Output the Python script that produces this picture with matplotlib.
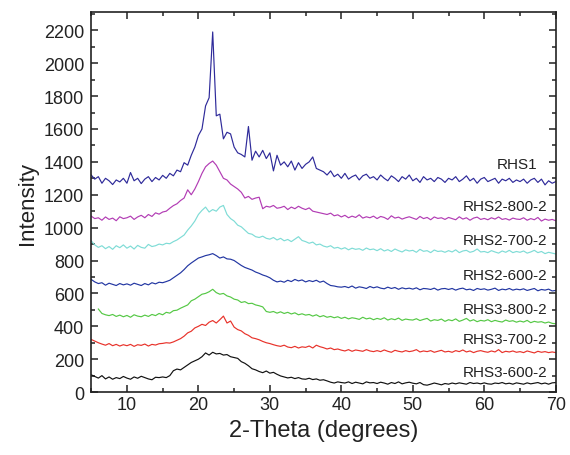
import numpy as np
import matplotlib
matplotlib.use("Agg")
import matplotlib.pyplot as plt
from matplotlib.ticker import MultipleLocator

plt.rcParams['font.family'] = ['Liberation Sans', 'DejaVu Sans']

nan = float('nan')

# 2-theta sampling (degrees), 0.5 deg step from 5 to 70
two_theta = np.arange(5, 70.01, 0.5)

rhs1 = [1320, 1295, 1310, 1270, 1300, 1285, 1262, 1290, 1278, 1300,
        1270, 1335, 1285, 1300, 1268, 1295, 1310, 1280, 1305, 1290,
        1318, 1300, 1330, 1315, 1350, 1340, 1395, 1380, 1440, 1490,
        1560, 1600, 1740, 1790, 2190, 1680, 1690, 1540, 1580, 1570,
        1490, 1455, 1445, 1430, 1615, 1410, 1465, 1430, 1470, 1420,
        1455, 1345, 1440, 1380, 1400, 1370, 1405, 1350, 1395, 1360,
        1385, 1400, 1430, 1360, 1350, 1340, 1320, 1345, 1310, 1325,
        1300, 1330, 1295, 1310, 1320, 1290, 1315, 1325, 1300, 1310,
        1290, 1320, 1300, 1285, 1315, 1300, 1280, 1310, 1295, 1320,
        1285, 1300, 1275, 1310, 1290, 1300, 1280, 1305, 1295, 1275,
        1300, 1290, 1310, 1280, 1295, 1315, 1285, 1300, 1270, 1295,
        1305, 1280, 1290, 1300, 1270, 1295, 1285, 1300, 1275, 1290,
        1280, 1295, 1270, 1290, 1300, 1275, 1295, 1260, 1285, 1270,
        1280]

rhs2_800 = [1070, 1055, 1060, 1045, 1065, 1050, 1058, 1042, 1066, 1055,
            1060, 1070, 1050, 1065, 1075, 1060, 1080, 1068, 1090, 1082,
            1095, 1100, 1118, 1134, 1145, 1165, 1180, 1230, 1200, 1235,
            1280, 1330, 1370, 1390, 1405, 1380, 1340, 1300, 1290, 1265,
            1250, 1235, 1215, 1180, 1190, 1172, 1180, 1185, 1115, 1130,
            1125, 1135, 1118, 1122, 1130, 1110, 1125, 1115, 1130, 1118,
            1110, 1120, 1100, 1095, 1090, 1085, 1080, 1088, 1072, 1078,
            1065, 1075, 1060, 1070, 1062, 1078, 1058, 1066, 1060, 1070,
            1055, 1068, 1062, 1050, 1072, 1058, 1064, 1052, 1060, 1066,
            1058, 1050, 1068, 1055, 1062, 1048, 1065, 1056, 1060, 1050,
            1062, 1055, 1048, 1066, 1052, 1060, 1045, 1058, 1064, 1050,
            1056, 1048, 1060, 1052, 1065, 1050, 1055, 1046, 1058, 1052,
            1050, 1060, 1045, 1055, 1048, 1062, 1040, 1052, 1045, 1050,
            1042]

rhs2_700 = [920, 895, 880, 890, 872, 885, 868, 890, 878, 895,
            875, 888, 870, 892, 880, 875, 898, 885, 890, 900,
            895, 905, 902, 915, 925, 940, 955, 985, 1010, 1040,
            1080, 1105, 1125, 1095, 1110, 1100, 1125, 1135, 1080, 1055,
            1040, 1015, 1005, 985, 965, 960, 945, 940, 948, 935,
            930, 940, 925, 935, 920, 928, 915, 930, 945, 922,
            915, 905, 912, 895, 900, 888, 882, 890, 875, 880,
            870, 878, 865, 875, 868, 872, 862, 876, 866, 870,
            860, 872, 858, 866, 855, 870, 860, 852, 865, 858,
            862, 850, 868, 856, 860, 848, 864, 855, 858, 850,
            860, 852, 865, 848, 858, 862, 850, 856, 870, 852,
            855, 848, 860, 852, 845, 858, 850, 862, 848, 855,
            850, 858, 845, 852, 862, 848, 855, 842, 850, 845,
            840]

rhs2_600 = [685, 670, 660, 665, 650, 662, 655, 648, 660, 652,
            658, 650, 662, 655, 648, 660, 652, 665, 658, 668,
            665, 672, 680, 695, 710, 725, 745, 768, 785, 800,
            815, 822, 830, 835, 842, 830, 815, 822, 810, 808,
            800, 785, 770, 758, 750, 742, 730, 722, 712, 705,
            695, 680, 670, 675, 668, 680, 672, 685, 676, 682,
            670, 678, 672, 680, 668, 675, 660, 648, 645, 640,
            638, 642, 635, 645, 632, 640, 636, 630, 642, 634,
            640, 632, 628, 638, 630, 636, 625, 634, 628, 632,
            626, 634, 622, 630, 628, 624, 632, 620, 628, 630,
            624, 630, 620, 628, 632, 622, 626, 618, 630, 624,
            628, 620, 625, 632, 618, 626, 622, 630, 620, 626,
            622, 628, 618, 624, 630, 616, 624, 620, 626, 615,
            618]

rhs3_800 = [nan, nan, 505, 478, 470, 465, 472, 460, 468, 458,
            466, 455, 470, 462, 458, 468, 460, 472, 465, 478,
            470, 485, 480, 495, 498, 510, 520, 530, 555, 565,
            580, 595, 600, 610, 625, 605, 595, 600, 585, 578,
            565, 560, 545, 550, 538, 540, 530, 525, 518, 490,
            485, 490, 480, 488, 478, 485, 475, 482, 470, 476,
            468, 472, 462, 470, 458, 465, 455, 460, 452, 458,
            448, 455, 445, 452, 448, 442, 455, 445, 450, 440,
            448, 442, 452, 438, 446, 440, 450, 436, 444, 440,
            438, 446, 435, 442, 448, 432, 440, 436, 444, 430,
            440, 434, 445, 430, 438, 448, 432, 440, 428, 436,
            432, 440, 428, 436, 430, 426, 438, 430, 434, 425,
            432, 426, 436, 422, 430, 425, 428, 420, 426, 418,
            415]

rhs3_700 = [320, 310, 300, 292, 285, 295, 282, 290, 280, 288,
            282, 290, 278, 288, 284, 292, 280, 290, 286, 294,
            296, 300, 298, 305, 315, 325, 340, 360, 370, 390,
            400, 412, 405, 425, 435, 420, 440, 462, 420, 432,
            395, 380, 372, 355, 345, 330, 325, 318, 308, 300,
            295, 288, 282, 278, 285, 274, 270, 278, 268, 275,
            272, 280, 268, 285, 276, 270, 262, 268, 258, 262,
            255, 250, 258, 248, 256, 252, 248, 258, 250, 246,
            252, 246, 256, 248, 242, 254, 248, 244, 252, 246,
            250, 258, 244, 250, 246, 252, 242, 248, 254, 244,
            248, 242, 252, 246, 256, 244, 250, 240, 248, 252,
            246, 242, 250, 244, 258, 240, 248, 244, 250, 242,
            246, 240, 250, 244, 238, 248, 242, 246, 240, 244,
            240]

rhs3_600 = [105, 95, 85, 100, 80, 92, 78, 88, 82, 95,
            85, 78, 92, 84, 96, 88, 80, 75, 90, 88,
            92, 88, 100, 130, 140, 135, 150, 165, 180, 190,
            200, 215, 238, 225, 242, 232, 235, 225, 228, 215,
            210, 205, 185, 175, 160, 142, 135, 125, 118, 128,
            115, 120, 108, 98, 92, 86, 90, 82, 88, 80,
            78, 84, 76, 80, 72, 75, 68, 60, 55, 62,
            58, 55, 62, 52, 60, 55, 50, 62, 56, 58,
            52, 60, 55, 48, 58, 52, 62, 50, 56, 60,
            54, 50, 58, 45, 42, 48, 55, 50, 44, 52,
            48, 55, 50, 56, 52, 48, 58, 52, 55, 50,
            56, 50, 48, 55, 52, 58, 50, 54, 48, 56,
            52, 48, 56, 50, 54, 58, 50, 55, 48, 56,
            58]

names = ['RHS1', 'RHS2-800-2', 'RHS2-700-2', 'RHS2-600-2',
         'RHS3-800-2', 'RHS3-700-2', 'RHS3-600-2']
series = [rhs1, rhs2_800, rhs2_700, rhs2_600, rhs3_800, rhs3_700, rhs3_600]
colors = ['#2e2a9a', '#b23cb4', '#7fdcd6', '#2236a2',
          '#55c845', '#e8322a', '#111111']
# where each curve name is written
label_x = [67.4, 68.8, 68.8, 68.8, 68.8, 68.8, 68.8]
label_y = [1384, 1130, 927, 714, 505, 323, 124]

fig = plt.figure(figsize=(5.7, 4.56), dpi=100)
ax = fig.add_axes([0.160, 0.138, 0.815, 0.833])

for ys, c in zip(series, colors):
    ax.plot(two_theta, ys, color=c, lw=0.85)

for name, lx, ly in zip(names, label_x, label_y):
    ax.text(lx, ly, name, ha='right', va='center', fontsize=11, color='#222222')

ax.set_xlim(5, 70)
ax.set_ylim(0, 2310)
ax.xaxis.set_major_locator(MultipleLocator(10))
ax.xaxis.set_minor_locator(MultipleLocator(5))
ax.yaxis.set_major_locator(MultipleLocator(200))
ax.yaxis.set_minor_locator(MultipleLocator(100))
ax.tick_params(which='both', direction='in', top=True, right=True,
               labelsize=13, width=1.1, colors='#222222')
ax.tick_params(which='major', length=5)
ax.tick_params(which='minor', length=3)
ax.tick_params(axis='x', pad=3)
ax.tick_params(axis='y', pad=5)
for sp in ax.spines.values():
    sp.set_linewidth(1.2)
    sp.set_color('#222222')

ax.set_xlabel('2-Theta (degrees)', fontsize=17, color='#222222', labelpad=4)
ax.set_ylabel('Intensity', fontsize=16, color='#222222', labelpad=4)

fig.savefig('out.png', dpi=100)
